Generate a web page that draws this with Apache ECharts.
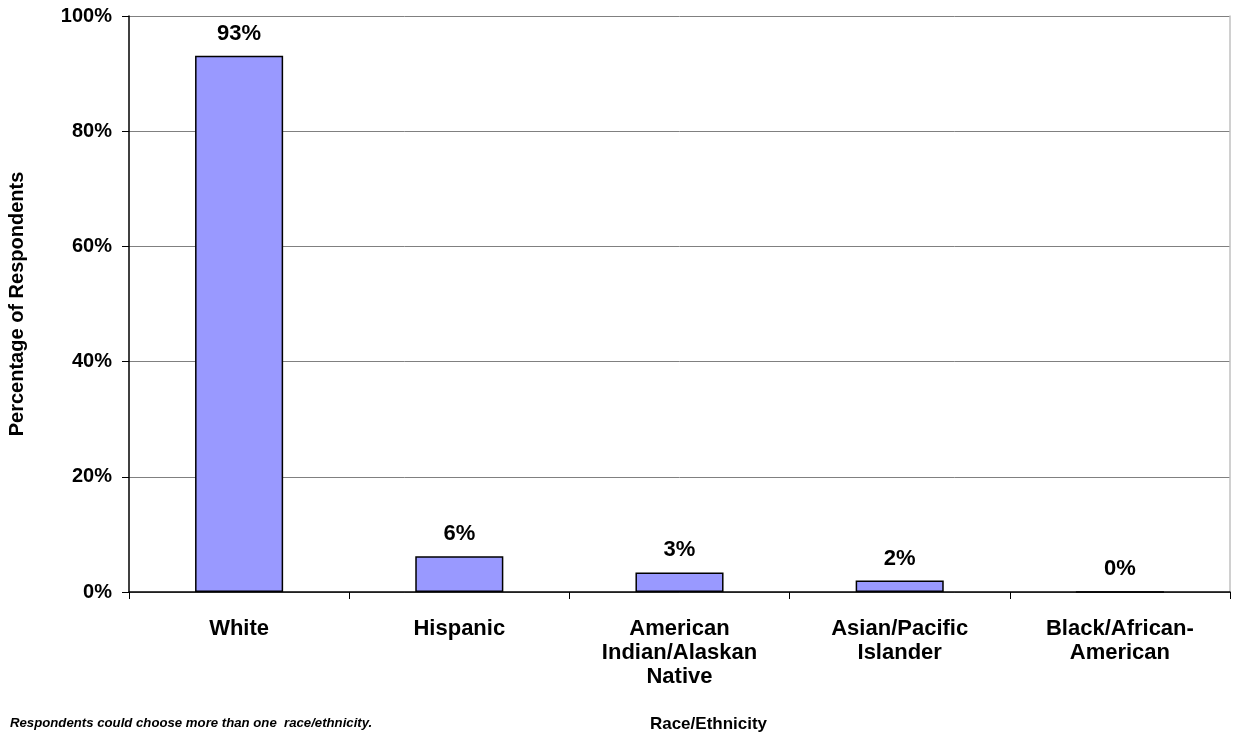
<!DOCTYPE html>
<html>
<head>
<meta charset="utf-8">
<script src="https://cdn.jsdelivr.net/npm/echarts@6/dist/echarts.min.js"></script>
<style>
html,body{margin:0;padding:0;background:#fff;}
#main{width:1233px;height:736px;}
</style>
</head>
<body>
<div id="main"></div>
<script>
var categories = ['White', 'Hispanic', 'American\nIndian/Alaskan\nNative', 'Asian/Pacific\nIslander', 'Black/African-\nAmerican'];
var values = [93.1, 6.2, 3.4, 2.0, 0];
var yTicks = [0, 20, 40, 60, 80, 100];
var footnote = 'Respondents could choose more than one  race/ethnicity.';
var xName = 'Race/Ethnicity';
var yName = 'Percentage of Respondents';

var FONT = '"Liberation Sans", Arial, sans-serif';
var chart = echarts.init(document.getElementById('main'));
chart.setOption({
  animation: false,
  grid: {left: 129, right: 3, top: 16, bottom: 144, containLabel: false, outerBoundsMode: 'none'},
  xAxis: {
    type: 'category',
    data: categories,
    name: xName,
    nameLocation: 'middle',
    nameGap: 124,
    nameTextStyle: {fontFamily: FONT, fontWeight: 'bold', fontSize: 17, color: '#000', padding: [0, 0, 0, 58]},
    axisLine: {lineStyle: {color: '#000', width: 1.5}},
    axisTick: {show: true, length: 7, lineStyle: {color: '#000', width: 1}},
    axisLabel: {fontFamily: FONT, fontWeight: 'bold', fontSize: 22, color: '#000', margin: 25, lineHeight: 24, interval: 0}
  },
  yAxis: [{
    type: 'value',
    min: 0, max: 100, interval: 20,
    name: yName,
    nameLocation: 'middle',
    nameGap: 102,
    nameRotate: 90,
    nameTextStyle: {fontFamily: FONT, fontWeight: 'bold', fontSize: 20, color: '#000'},
    axisLine: {show: true, lineStyle: {color: '#000', width: 1.5}},
    axisTick: {show: true, length: 7, lineStyle: {color: '#000'}},
    axisLabel: {fontFamily: FONT, fontWeight: 'bold', fontSize: 20, color: '#000', margin: 17,
      formatter: function (v) { return yTicks.indexOf(v) >= 0 ? v + '%' : ''; }},
    splitLine: {show: true, lineStyle: {color: '#808080', width: 1}}
  }, {
    type: 'value', min: 0, max: 100, position: 'right',
    axisLine: {show: true, lineStyle: {color: '#c0c0c0', width: 1.5}},
    axisTick: {show: false}, axisLabel: {show: false}, splitLine: {show: false}
  }],
  series: [{
    type: 'bar',
    data: values,
    barWidth: '40%',
    itemStyle: {color: '#9999FF', borderColor: '#000', borderWidth: 1.5},
    label: {
      show: true, position: 'top', distance: 11,
      fontFamily: FONT, fontWeight: 'bold', fontSize: 22, color: '#000',
      formatter: function (p) { return Math.round(p.value) + '%'; }
    }
  }],
  graphic: [{
    type: 'text', left: 10, top: 717,
    style: {text: footnote, font: 'italic bold 13.2px ' + FONT, fill: '#000'}
  }]
});
</script>
</body>
</html>
